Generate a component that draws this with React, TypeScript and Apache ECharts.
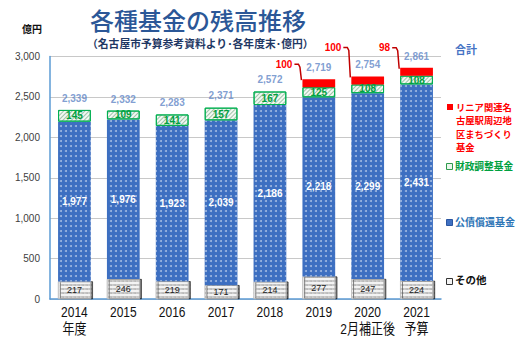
import React, { useEffect, useRef } from "react";
import * as echarts from "echarts";

const categories = ["2014\n年度", "2015", "2016", "2017", "2018", "2019", "2020\n2月補正後", "2021\n予算"];
const otherFund = [217, 246, 219, 171, 214, 277, 247, 224];
const debtFund = [1977, 1976, 1923, 2039, 2186, 2218, 2299, 2431];
const fiscalFund = [145, 109, 141, 157, 167, 125, 108, 108];
const linearFund = [0, 0, 0, 0, 0, 100, 100, 98];
const totals = [2339, 2332, 2283, 2371, 2572, 2719, 2754, 2861];
const yTicks = [0, 500, 1000, 1500, 2000, 2500, 3000];

// layout only: how far above the bar top each leader label sits
const leaderRise = [0, 0, 0, 0, 0, 15, 29, 20];

const JP = "'Noto Sans CJK JP', sans-serif";
const NUM = "'Liberation Sans', 'Noto Sans CJK JP', sans-serif";

export default function App() {
  const ref = useRef<HTMLDivElement>(null);
  useEffect(() => {
    if (!ref.current) return;
    const chart = echarts.init(ref.current, undefined, { renderer: "svg" });
    const leaderData = linearFund
      .map((v, i) => [i, otherFund[i] + debtFund[i] + fiscalFund[i] + v, leaderRise[i], v])
      .filter((d) => d[3] > 0);
    const labelData = categories.map((c, i) => [i, 0, c]);

    const option: any = {
      animation: false,
      backgroundColor: "#ffffff",
      aria: { enabled: true, decal: { show: true } },
      grid: { left: 50, right: 79, top: 56.5, bottom: 50 },
      xAxis: {
        type: "category",
        data: categories,
        axisLine: { lineStyle: { color: "#5b9bd5", width: 1.5 } },
        axisTick: { show: false },
        axisLabel: { show: false },
      },
      yAxis: {
        type: "value",
        min: yTicks[0],
        max: yTicks[yTicks.length - 1],
        interval: 500,
        axisLine: { show: true, lineStyle: { color: "#5b9bd5", width: 1.5 } },
        axisTick: { show: false },
        splitLine: { lineStyle: { color: "#c8c8c8", width: 1 } },
        axisLabel: {
          color: "#404040",
          fontSize: 10,
          fontFamily: NUM,
          margin: 10,
          formatter: (v: number) => v.toLocaleString("en-US"),
        },
      },
      series: [
        {
          name: "その他",
          type: "bar",
          stack: "s",
          barWidth: "67%",
          data: otherFund,
          itemStyle: {
            color: "#f3f3f3",
            borderColor: "#b0b0b0",
            borderWidth: 0.5,
            shadowColor: "rgba(0,0,0,0.5)",
            shadowOffsetX: 2,
            shadowOffsetY: 0,
            shadowBlur: 1,
            decal: {
              symbol: "circle",
              symbolSize: 0.9,
              color: "rgba(60,60,60,0.3)",
              dashArrayX: [1.2, 1.6],
              dashArrayY: [1.2, 1.6],
              rotation: 0,
            },
          },
          label: {
            show: true,
            position: "inside",
            color: "#222",
            fontSize: 9,
            fontFamily: NUM,
          },
        },
        {
          name: "公債償還基金",
          type: "bar",
          stack: "s",
          data: debtFund,
          itemStyle: {
            color: "#3d6fc1",
            decal: {
              symbol: "circle",
              symbolSize: 1,
              color: "rgba(255,255,255,0.5)",
              dashArrayX: [1.3, 2.4],
              dashArrayY: [1.3, 2.4],
              rotation: 0,
            },
          },
          label: {
            show: true,
            position: "inside",
            color: "#ffffff",
            fontSize: 10,
            fontWeight: "bold",
            fontFamily: NUM,
            formatter: (p: any) => p.value.toLocaleString("en-US"),
          },
        },
        {
          name: "財政調整基金",
          type: "bar",
          stack: "s",
          data: fiscalFund,
          itemStyle: {
            color: "#f2f8f2",
            borderColor: "#00b050",
            borderWidth: 1,
            decal: {
              symbol: "rect",
              symbolSize: 1,
              color: "rgba(90,150,110,0.55)",
              dashArrayX: [1, 0],
              dashArrayY: [1, 2],
              rotation: -Math.PI / 4,
            },
          },
          label: {
            show: true,
            position: "inside",
            color: "#00a040",
            fontSize: 10,
            fontWeight: "bold",
            fontFamily: NUM,
          },
        },
        {
          name: "リニア関連名古屋駅周辺地区まちづくり基金",
          type: "bar",
          stack: "s",
          data: linearFund.map((v) => (v > 0 ? v : null)),
          itemStyle: { color: "#ff0000", decal: { symbol: "none" } },
          label: { show: false },
        },
        {
          name: "合計",
          type: "scatter",
          data: totals,
          symbolSize: 1,
          itemStyle: { color: "rgba(0,0,0,0)", decal: { symbol: "none" } },
          z: 5,
          label: {
            show: true,
            position: "top",
            distance: 6,
            color: "#5f86c6",
            fontSize: 10,
            fontWeight: "bold",
            fontFamily: NUM,
            formatter: (p: any) => p.value.toLocaleString("en-US"),
          },
        },
        {
          name: "leader",
          type: "custom",
          coordinateSystem: "cartesian2d",
          data: leaderData,
          encode: { x: 0, y: 1 },
          z: 6,
          renderItem: (params: any, api: any) => {
            const idx = api.value(0);
            const top = api.value(1);
            const rise = api.value(2);
            const val = api.value(3);
            const p = api.coord([idx, top]);
            const half = (api.size([1, 0])[0] * 0.67) / 2;
            const left = p[0] - half;
            const ty = p[1] - rise;
            return {
              type: "group",
              children: [
                {
                  type: "polyline",
                  shape: {
                    points: [
                      [left - 8, ty],
                      [left - 4, ty],
                      [left - 2.5, ty + 3],
                      [left - 1, p[1] + 1],
                    ],
                  },
                  style: { stroke: "#c00000", lineWidth: 1.5, fill: "none" },
                },
                {
                  type: "text",
                  style: {
                    text: String(val),
                    x: left - 10,
                    y: ty,
                    align: "right",
                    verticalAlign: "middle",
                    fill: "#ff0000",
                    font: `bold 10px ${NUM}`,
                  },
                },
              ],
            };
          },
        },
        {
          name: "xlabels",
          type: "custom",
          coordinateSystem: "cartesian2d",
          data: labelData,
          encode: { x: 0, y: 1 },
          clip: false,
          z: 6,
          renderItem: (params: any, api: any) => {
            const i = api.value(0);
            const p = api.coord([i, 0]);
            return {
              type: "text",
              x: p[0],
              y: p[1] + 5,
              scaleX: 0.8,
              style: {
                text: categories[i],
                x: 0,
                y: 0,
                align: "center",
                verticalAlign: "top",
                fill: "#111",
                font: `15px ${NUM}`,
                lineHeight: 17,
              },
            };
          },
        },
      ],
      graphic: [
        {
          type: "text",
          left: 90,
          top: 7,
          style: {
            text: "各種基金の残高推移",
            fill: "#2b5797",
            font: `500 24px ${JP}`,
          },
        },
        {
          type: "text",
          left: 87,
          top: 38,
          style: {
            text: "（名古屋市予算参考資料より･各年度末･億円）",
            fill: "#1f3864",
            font: `bold 10.8px ${JP}`,
          },
        },
        {
          type: "text",
          left: 22,
          top: 23,
          style: { text: "億円", fill: "#111", font: `bold 10px ${JP}` },
        },
        {
          type: "text",
          left: 455,
          top: 43,
          style: { text: "合計", fill: "#4472c4", font: `bold 11px ${JP}` },
        },
        { type: "rect", shape: { x: 447, y: 104, width: 6, height: 6 }, style: { fill: "#ff0000" } },
        {
          type: "text",
          left: 456,
          top: 100,
          style: {
            text: "リニア関連名\n古屋駅周辺地\n区まちづくり\n基金",
            fill: "#ff0000",
            font: `bold 9.3px ${JP}`,
            lineHeight: 13.5,
          },
        },
        {
          type: "rect",
          shape: { x: 446.5, y: 163.5, width: 6, height: 6 },
          style: { fill: "#eaf6ec", stroke: "#2e9a4c", lineWidth: 1 },
        },
        {
          type: "text",
          left: 455,
          top: 161,
          style: { text: "財政調整基金", fill: "#00a040", font: `bold 9.7px ${JP}` },
        },
        {
          type: "rect",
          shape: { x: 446.5, y: 219.5, width: 6, height: 6 },
          style: { fill: "#3f70c2", stroke: "#2a55a0", lineWidth: 1 },
        },
        {
          type: "text",
          left: 455,
          top: 216,
          style: { text: "公債償還基金", fill: "#2e75b6", font: `bold 10px ${JP}` },
        },
        {
          type: "rect",
          shape: { x: 446.5, y: 278.5, width: 6, height: 6 },
          style: { fill: "#f4f4f4", stroke: "#333", lineWidth: 1 },
        },
        {
          type: "text",
          left: 455,
          top: 274,
          style: { text: "その他", fill: "#111", font: `bold 10.5px ${JP}` },
        },
      ],
    };
    chart.setOption(option);
    return () => chart.dispose();
  }, []);
  return (
    <div
      ref={ref}
      style={{ width: 520, height: 349, position: "absolute", left: 0, top: 0 }}
    />
  );
}
